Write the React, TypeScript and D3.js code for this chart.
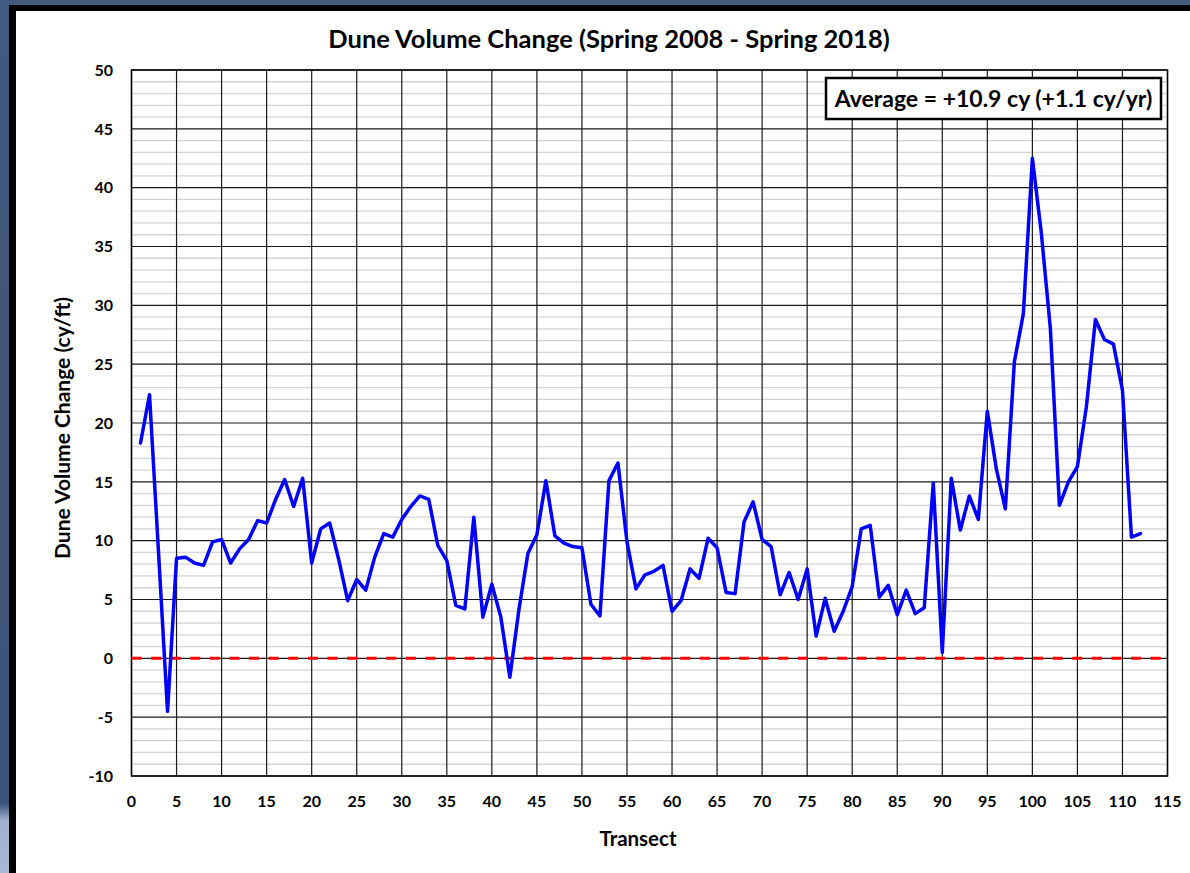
import React from "react";
import * as d3 from "d3";

const transects: number[] = [
  1, 2, 3, 4, 5, 6, 7, 8, 9, 10, 11, 12, 13, 14, 15, 16, 17, 18, 19, 20,
  21, 22, 23, 24, 25, 26, 27, 28, 29, 30, 31, 32, 33, 34, 35, 36, 37, 38, 39, 40,
  41, 42, 43, 44, 45, 46, 47, 48, 49, 50, 51, 52, 53, 54, 55, 56, 57, 58, 59, 60,
  61, 62, 63, 64, 65, 66, 67, 68, 69, 70, 71, 72, 73, 74, 75, 76, 77, 78, 79, 80,
  81, 82, 83, 84, 85, 86, 87, 88, 89, 90, 91, 92, 93, 94, 95, 96, 97, 98, 99, 100,
  101, 102, 103, 104, 105, 106, 107, 108, 109, 110, 111, 112,
];

const volumeChange: number[] = [
  18.3, 22.4, 9.0, -4.5, 8.5, 8.6, 8.1, 7.9, 9.9, 10.1,
  8.1, 9.3, 10.1, 11.7, 11.5, 13.5, 15.2, 12.9, 15.3, 8.1,
  11.0, 11.5, 8.4, 4.9, 6.7, 5.8, 8.6, 10.6, 10.3, 11.8,
  12.9, 13.8, 13.5, 9.6, 8.3, 4.5, 4.2, 12.0, 3.5, 6.3,
  3.5, -1.6, 4.1, 8.9, 10.5, 15.1, 10.4, 9.8, 9.5, 9.4,
  4.6, 3.6, 15.1, 16.6, 9.9, 5.9, 7.1, 7.4, 7.9, 4.0,
  4.9, 7.6, 6.8, 10.2, 9.4, 5.6, 5.5, 11.6, 13.3, 10.1,
  9.5, 5.4, 7.3, 5.0, 7.6, 1.9, 5.1, 2.3, 4.0, 6.1,
  11.0, 11.3, 5.2, 6.2, 3.7, 5.8, 3.8, 4.3, 14.9, 0.5,
  15.3, 10.9, 13.8, 11.8, 21.0, 16.1, 12.7, 25.2, 29.3, 42.5,
  36.1, 28.0, 13.0, 15.0, 16.3, 21.4, 28.8, 27.1, 26.7, 22.8,
  10.3, 10.6,
];

const xTicks: number[] = [0, 5, 10, 15, 20, 25, 30, 35, 40, 45, 50, 55, 60, 65, 70, 75, 80, 85, 90, 95, 100, 105, 110, 115];
const yTicks: number[] = [-10, -5, 0, 5, 10, 15, 20, 25, 30, 35, 40, 45, 50];
const yMinorTicks: number[] = d3.range(-10, 51, 1).filter((v) => v % 5 !== 0);

const title = "Dune Volume Change (Spring 2008 - Spring 2018)";
const xTitle = "Transect";
const yTitle = "Dune Volume Change (cy/ft)";
const annotation = "Average = +10.9 cy (+1.1 cy/yr)";

const W = 1190;
const H = 873;
const FONT = "Lato, 'Open Sans', sans-serif";

export default function App() {
  const x = d3.scaleLinear().domain([0, 115]).range([131.5, 1167.5]);
  const y = d3.scaleLinear().domain([-10, 50]).range([776, 70]);

  const line = d3
    .line<number>()
    .x((_, i) => x(transects[i]))
    .y((d) => y(d));

  const [x0, x1] = x.range();
  const [y0, y1] = y.range();

  return (
    <svg width={W} height={H} style={{ position: "absolute", left: 0, top: 0 }}>
      <defs>
        <linearGradient id="bg" x1="0" y1="0" x2="0" y2="1">
          <stop offset="0%" stopColor="#425a7e" />
          <stop offset="92%" stopColor="#3c5276" />
          <stop offset="94%" stopColor="#9fb1cf" />
          <stop offset="100%" stopColor="#a8b9d6" />
        </linearGradient>
      </defs>
      <rect x={0} y={0} width={W} height={H} fill="url(#bg)" />
      <rect x={9} y={5} width={W - 9} height={H - 5} fill="#000" />
      <rect x={16} y={11} width={W - 16} height={H - 11} fill="#fff" />

      {/* minor horizontal grid */}
      {yMinorTicks.map((v) => (
        <line key={"m" + v} x1={x0} x2={x1} y1={y(v)} y2={y(v)} stroke="#d4d4d4" strokeWidth={1.3} />
      ))}
      {/* major horizontal grid */}
      {yTicks.map((v) => (
        <line key={"h" + v} x1={x0} x2={x1} y1={y(v)} y2={y(v)} stroke="#1a1a1a" strokeWidth={1.2} />
      ))}
      {/* vertical grid */}
      {xTicks.map((v) => (
        <line key={"v" + v} x1={x(v)} x2={x(v)} y1={y0} y2={y1} stroke="#1a1a1a" strokeWidth={1.2} />
      ))}
      <rect x={x0} y={y1} width={x1 - x0} height={y0 - y1} fill="none" stroke="#000" strokeWidth={1.5} />

      {/* zero reference */}
      <line x1={x0} x2={x1} y1={y(0)} y2={y(0)} stroke="#ff0000" strokeWidth={3} strokeDasharray="10 9.6" />

      {/* data */}
      <path d={line(volumeChange) || ""} fill="none" stroke="#0000ff" strokeWidth={3.5} strokeLinejoin="round" strokeLinecap="round" />

      {/* y tick labels */}
      {yTicks.map((v) => (
        <text key={"yl" + v} x={113} y={y(v)} dy="0.36em" textAnchor="end" fontFamily={FONT} fontWeight={700} fontSize={16} fill="#000">
          {v}
        </text>
      ))}
      {/* x tick labels */}
      {xTicks.map((v) => (
        <text key={"xl" + v} x={x(v)} y={807} textAnchor="middle" fontFamily={FONT} fontWeight={700} fontSize={16} fill="#000">
          {v}
        </text>
      ))}

      <text x={609} y={48} textAnchor="middle" fontFamily={FONT} fontWeight={700} fontSize={25.5} fill="#000">
        {title}
      </text>
      <text x={638} y={846} textAnchor="middle" fontFamily={FONT} fontWeight={700} fontSize={20.5} fill="#000">
        {xTitle}
      </text>
      <text transform={`translate(70,428) rotate(-90)`} textAnchor="middle" fontFamily={FONT} fontWeight={700} fontSize={21} fill="#000">
        {yTitle}
      </text>

      <rect x={826} y={78} width={335} height={41} fill="#fff" stroke="#000" strokeWidth={2.5} />
      <text x={993.5} y={106.5} textAnchor="middle" fontFamily={FONT} fontWeight={700} fontSize={23} fill="#000">
        {annotation}
      </text>
    </svg>
  );
}
